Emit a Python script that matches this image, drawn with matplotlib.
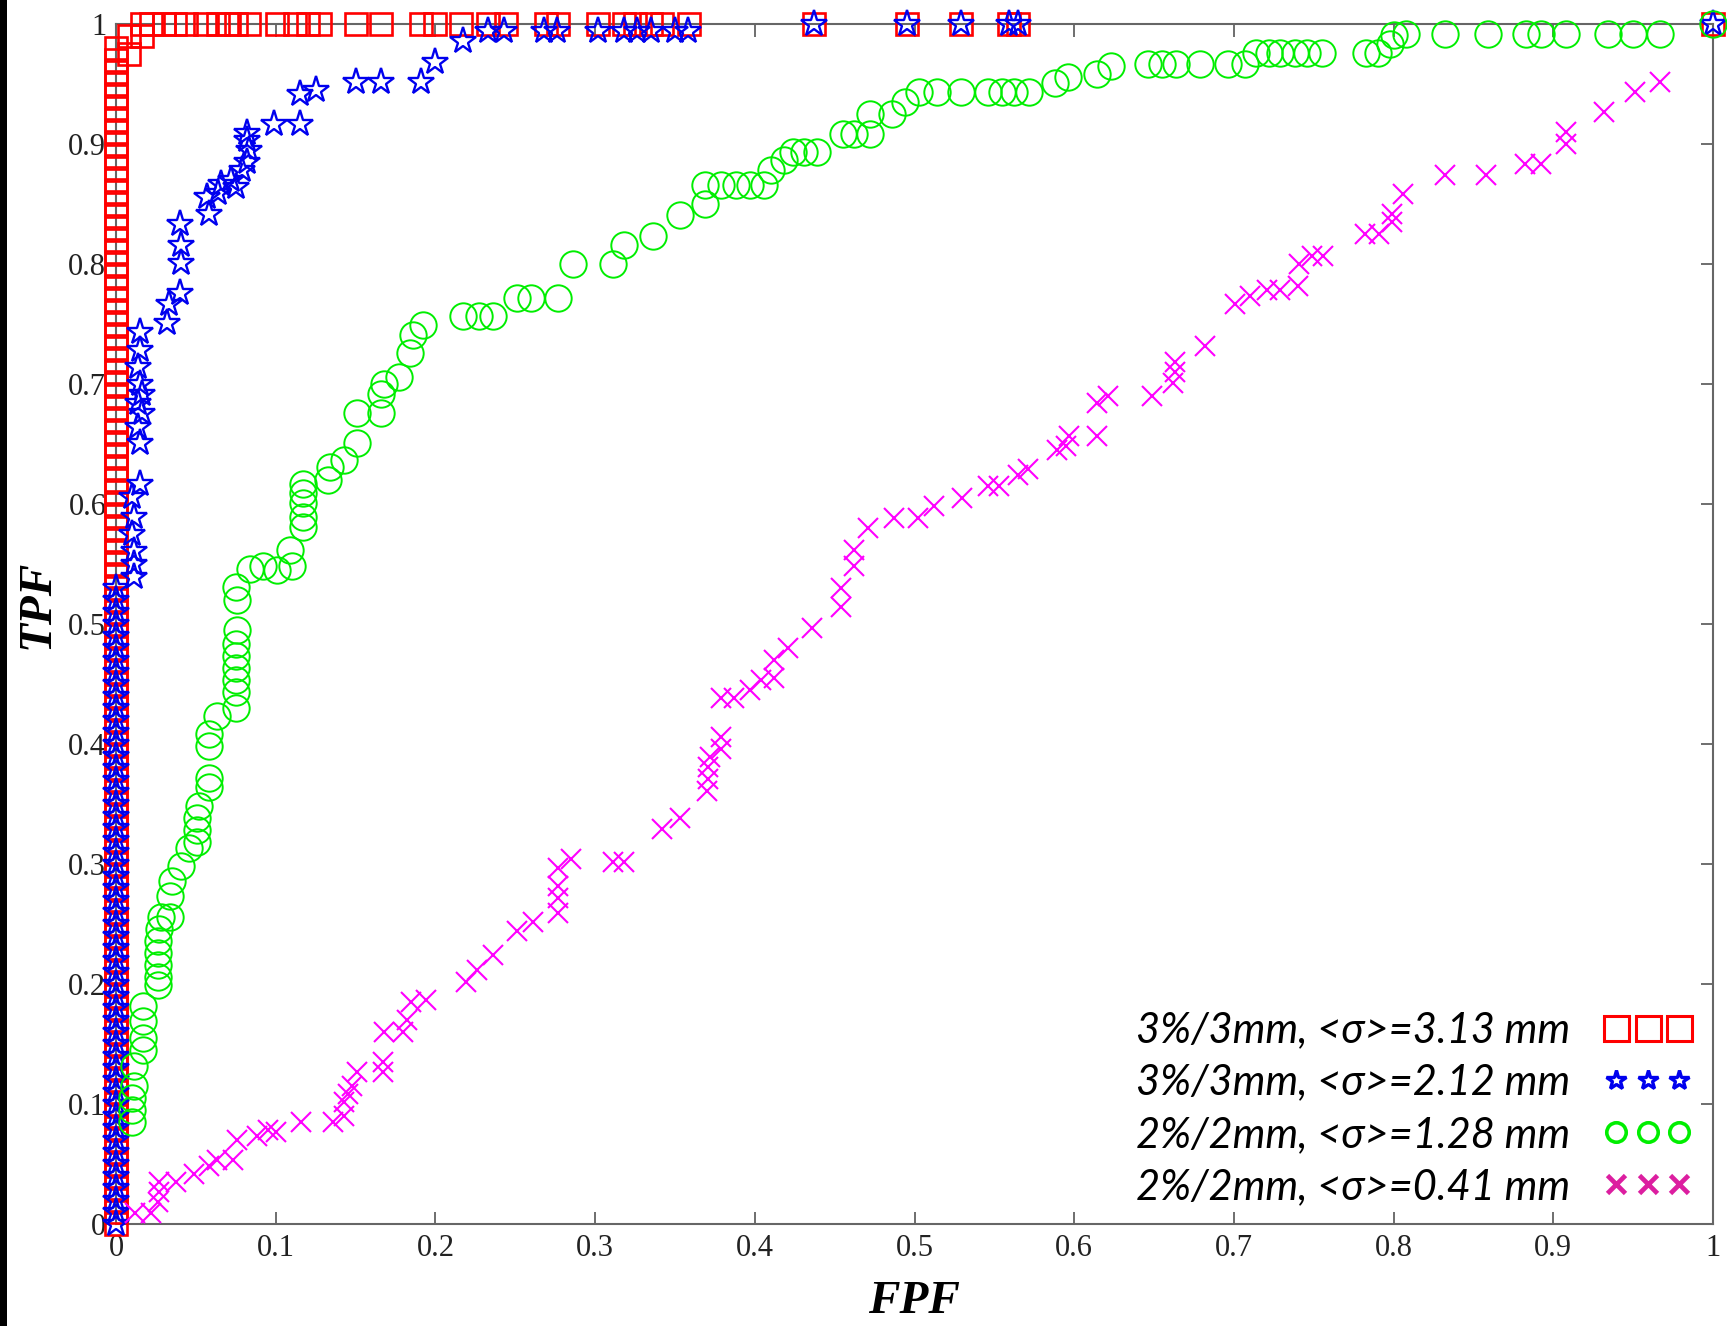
import matplotlib
matplotlib.use("Agg")
import matplotlib.pyplot as plt
from matplotlib.lines import Line2D
from matplotlib.patches import Rectangle
from matplotlib.font_manager import FontProperties

# ---------------- data ----------------
tick_values = [0, 0.1, 0.2, 0.3, 0.4, 0.5, 0.6, 0.7, 0.8, 0.9, 1]
tick_labels = ["0", "0.1", "0.2", "0.3", "0.4", "0.5", "0.6", "0.7", "0.8", "0.9", "1"]

legend_labels = ["3%/3mm, <σ>=3.13 mm", "3%/3mm, <σ>=2.12 mm",
                 "2%/2mm, <σ>=1.28 mm", "2%/2mm, <σ>=0.41 mm"]

# 3%/3mm, sigma=3.13 mm (red squares)
red_col_tpf = [0.00, 0.01, 0.02, 0.03, 0.04, 0.05, 0.06, 0.07, 0.08, 0.09,
               0.10, 0.11, 0.12, 0.13, 0.14, 0.15, 0.16, 0.17, 0.18, 0.19,
               0.20, 0.21, 0.22, 0.23, 0.24, 0.25, 0.26, 0.27, 0.28, 0.29,
               0.30, 0.31, 0.32, 0.33, 0.34, 0.35, 0.36, 0.37, 0.38, 0.39,
               0.40, 0.41, 0.42, 0.43, 0.44, 0.45, 0.46, 0.47, 0.48, 0.49,
               0.50, 0.51, 0.52, 0.53, 0.54, 0.55, 0.56, 0.57, 0.58, 0.59,
               0.60, 0.61, 0.62, 0.63, 0.64, 0.65, 0.66, 0.67, 0.68, 0.69,
               0.70, 0.71, 0.72, 0.73, 0.74, 0.75, 0.76, 0.77, 0.78, 0.79,
               0.80, 0.81, 0.82, 0.83, 0.84, 0.85, 0.86, 0.87, 0.88, 0.89,
               0.90, 0.91, 0.92, 0.93, 0.94, 0.95, 0.96, 0.97, 0.98]
red_top_fpf = [0.008, 0.008, 0.016, 0.016, 0.022, 0.030, 0.037, 0.044, 0.056, 0.064,
               0.071, 0.075, 0.083, 0.101, 0.112, 0.120, 0.128, 0.150, 0.166, 0.191,
               0.200, 0.216, 0.233, 0.244, 0.269, 0.277, 0.302, 0.318, 0.325, 0.335,
               0.342, 0.359, 0.437, 0.495, 0.529, 0.559, 0.565, 1.0]
red_top_tpf = [0.975, 0.99, 0.99, 1.0, 1.0, 1.0, 1.0, 1.0, 1.0, 1.0,
               1.0, 1.0, 1.0, 1.0, 1.0, 1.0, 1.0, 1.0, 1.0, 1.0,
               1.0, 1.0, 1.0, 1.0, 1.0, 1.0, 1.0, 1.0, 1.0, 1.0,
               1.0, 1.0, 1.0, 1.0, 1.0, 1.0, 1.0, 1.0]
red_fpf = [0.0] * len(red_col_tpf) + red_top_fpf
red_tpf = red_col_tpf + red_top_tpf

# 3%/3mm, sigma=2.12 mm (blue stars)
blue_col_tpf = [0.00, 0.01, 0.02, 0.03, 0.04, 0.05, 0.06, 0.07, 0.08, 0.09,
                0.10, 0.11, 0.12, 0.13, 0.14, 0.15, 0.16, 0.17, 0.18, 0.19,
                0.20, 0.21, 0.22, 0.23, 0.24, 0.25, 0.26, 0.27, 0.28, 0.29,
                0.30, 0.31, 0.32, 0.33, 0.34, 0.35, 0.36, 0.37, 0.38, 0.39,
                0.40, 0.41, 0.42, 0.43, 0.44, 0.45, 0.46, 0.47, 0.48, 0.49,
                0.50, 0.51, 0.52, 0.53]
blue_rest_fpf = [0.011, 0.011, 0.011, 0.010, 0.011, 0.010, 0.015, 0.015, 0.014, 0.016,
                 0.014, 0.016, 0.015, 0.014, 0.015, 0.015,
                 0.032, 0.033, 0.040, 0.041, 0.041, 0.040,
                 0.058, 0.057, 0.064, 0.066, 0.072, 0.075, 0.079, 0.082, 0.083, 0.082, 0.082,
                 0.099, 0.115, 0.115, 0.125, 0.150, 0.166, 0.191, 0.200, 0.217,
                 0.233, 0.243, 0.268, 0.276, 0.302, 0.318, 0.326, 0.335, 0.350, 0.358,
                 0.437, 0.495, 0.529, 0.559, 0.565, 1.0]
blue_rest_tpf = [0.539, 0.550, 0.561, 0.575, 0.589, 0.606, 0.617, 0.651, 0.664, 0.676,
                 0.684, 0.692, 0.700, 0.714, 0.728, 0.743,
                 0.751, 0.767, 0.776, 0.801, 0.816, 0.833,
                 0.842, 0.856, 0.859, 0.867, 0.870, 0.864, 0.878, 0.885, 0.895, 0.903, 0.909,
                 0.917, 0.917, 0.942, 0.945, 0.952, 0.952, 0.952, 0.968, 0.986,
                 0.994, 0.994, 0.994, 0.994, 0.994, 0.994, 0.994, 0.994, 0.994, 0.994,
                 1.0, 1.0, 1.0, 1.0, 1.0, 1.0]
blue_fpf = [0.0] * len(blue_col_tpf) + blue_rest_fpf
blue_tpf = blue_col_tpf + blue_rest_tpf

# 2%/2mm, sigma=1.28 mm (green circles)
green_fpf = [0.010, 0.010, 0.010, 0.011, 0.011, 0.017, 0.017, 0.017, 0.017, 0.026,
             0.026, 0.026, 0.026, 0.026, 0.027, 0.028, 0.034, 0.034, 0.035, 0.041,
             0.046, 0.051, 0.051, 0.051, 0.052, 0.058, 0.058, 0.058, 0.058, 0.063,
             0.075, 0.075, 0.075, 0.075, 0.075, 0.075, 0.076, 0.076, 0.075, 0.084,
             0.092, 0.101, 0.110, 0.109, 0.117, 0.117, 0.117, 0.117, 0.117, 0.133,
             0.134, 0.143, 0.151, 0.151, 0.166, 0.166, 0.168, 0.177, 0.184, 0.186,
             0.192,
             0.217, 0.227, 0.236, 0.251, 0.260, 0.277, 0.286, 0.311, 0.318, 0.336,
             0.353, 0.369, 0.369, 0.379, 0.388, 0.397, 0.406, 0.410, 0.418, 0.424,
             0.431, 0.439, 0.455, 0.462, 0.472, 0.472, 0.486, 0.494, 0.503, 0.514,
             0.529, 0.546, 0.555, 0.562, 0.572, 0.588, 0.596, 0.614, 0.623, 0.646,
             0.655, 0.664, 0.679, 0.696, 0.707, 0.714, 0.722, 0.729, 0.738, 0.746,
             0.755, 0.783, 0.790, 0.798, 0.800, 0.808, 0.832, 0.859, 0.883, 0.892,
             0.908, 0.934, 0.950, 0.967, 1.0]
green_tpf = [0.085, 0.095, 0.105, 0.115, 0.132, 0.145, 0.155, 0.169, 0.182, 0.199,
             0.206, 0.216, 0.226, 0.236, 0.246, 0.256, 0.256, 0.273, 0.286, 0.298,
             0.313, 0.318, 0.328, 0.338, 0.348, 0.364, 0.372, 0.398, 0.408, 0.423,
             0.430, 0.443, 0.453, 0.463, 0.473, 0.483, 0.495, 0.520, 0.531, 0.546,
             0.548, 0.545, 0.548, 0.562, 0.581, 0.589, 0.601, 0.609, 0.617, 0.620,
             0.631, 0.637, 0.651, 0.676, 0.676, 0.692, 0.700, 0.706, 0.726, 0.741,
             0.749,
             0.757, 0.757, 0.757, 0.772, 0.772, 0.772, 0.800, 0.800, 0.816, 0.823,
             0.841, 0.850, 0.866, 0.866, 0.866, 0.866, 0.866, 0.878, 0.887, 0.893,
             0.893, 0.893, 0.908, 0.908, 0.908, 0.925, 0.925, 0.935, 0.943, 0.943,
             0.943, 0.943, 0.943, 0.943, 0.943, 0.951, 0.956, 0.958, 0.965, 0.967,
             0.967, 0.967, 0.967, 0.967, 0.967, 0.976, 0.976, 0.976, 0.976, 0.976,
             0.976, 0.976, 0.976, 0.983, 0.991, 0.992, 0.992, 0.992, 0.992, 0.992,
             0.992, 0.992, 0.992, 0.992, 1.0]

# 2%/2mm, sigma=0.41 mm (magenta crosses)
mag_fpf = [0.012, 0.022, 0.026, 0.027, 0.027, 0.0375, 0.049, 0.058, 0.063, 0.073,
           0.076, 0.088, 0.095, 0.100, 0.116, 0.136, 0.143, 0.143, 0.145, 0.148,
           0.151, 0.167, 0.167, 0.168, 0.180, 0.182, 0.185, 0.194, 0.219, 0.226,
           0.236, 0.251, 0.261, 0.277, 0.277, 0.277, 0.277, 0.285, 0.311, 0.318,
           0.342, 0.353, 0.370, 0.371, 0.371, 0.372, 0.379, 0.379, 0.379, 0.387,
           0.397, 0.404, 0.412, 0.412, 0.421, 0.436,
           0.454, 0.454, 0.462, 0.462, 0.471, 0.487, 0.502, 0.512, 0.530, 0.546,
           0.553, 0.565, 0.571, 0.589, 0.595, 0.597, 0.614, 0.614, 0.621, 0.649,
           0.662, 0.663, 0.663, 0.682, 0.701, 0.710, 0.721, 0.729, 0.740, 0.741,
           0.749, 0.756, 0.782, 0.791, 0.799, 0.799, 0.806, 0.832, 0.858, 0.882,
           0.892, 0.908, 0.908, 0.932, 0.951, 0.967]
mag_tpf = [0.009, 0.009, 0.018, 0.027, 0.035, 0.035, 0.042, 0.048, 0.053, 0.053,
           0.070, 0.073, 0.078, 0.077, 0.085, 0.085, 0.090, 0.102, 0.108, 0.115,
           0.127, 0.127, 0.135, 0.160, 0.160, 0.170, 0.185, 0.187, 0.202, 0.212,
           0.224, 0.244, 0.252, 0.259, 0.272, 0.282, 0.297, 0.304, 0.302, 0.302,
           0.329, 0.338, 0.361, 0.371, 0.381, 0.389, 0.396, 0.406, 0.438, 0.438,
           0.445, 0.453, 0.455, 0.470, 0.480, 0.497,
           0.514, 0.530, 0.548, 0.562, 0.580, 0.588, 0.588, 0.598, 0.605, 0.615,
           0.615, 0.624, 0.629, 0.645, 0.648, 0.657, 0.657, 0.684, 0.690, 0.690,
           0.701, 0.710, 0.718, 0.732, 0.767, 0.773, 0.778, 0.778, 0.782, 0.800,
           0.807, 0.807, 0.825, 0.825, 0.835, 0.842, 0.858, 0.874, 0.874, 0.883,
           0.883, 0.900, 0.910, 0.927, 0.943, 0.952]

# ---------------- figure ----------------
W, H = 1727, 1326
fig = plt.figure(figsize=(W / 100, H / 100), dpi=100)
fig.patch.set_facecolor("white")
ax = fig.add_axes([116 / W, 102 / H, 1597 / W, 1200 / H])
ax.set_xlim(0, 1)
ax.set_ylim(0, 1)

common = dict(linestyle="none", clip_on=False, zorder=3)
ax.plot(red_fpf, red_tpf, marker="s", ms=16.5, mfc="none", mec="#ff0000", mew=1.9, **common)
ax.plot(blue_fpf, blue_tpf, marker="*", ms=20, mfc="none", mec="#0000ee", mew=1.7, **common)
ax.plot(green_fpf, green_tpf, marker="o", ms=19, mfc="none", mec="#00ee00", mew=1.4, **common)
ax.plot(mag_fpf, mag_tpf, marker="x", ms=15, mfc="none", mec="#ff00ff", mew=1.5, **common)

ax.set_xticks(tick_values)
ax.set_xticklabels(tick_labels)
ax.set_yticks(tick_values)
ax.set_yticklabels(tick_labels)
ax.tick_params(direction="in", length=9, width=1.2, colors="#555555",
               top=True, right=True, labelsize=22, pad=7, labelcolor="#222222")
for lab in ax.get_xticklabels() + ax.get_yticklabels():
    lab.set_family("Liberation Serif")
for sp in ax.spines.values():
    sp.set_color("#666666")
    sp.set_linewidth(1.5)

fig.text(38 / W, 1 - 604 / H, "TPF", rotation=90, fontsize=34, fontweight="bold",
         fontstyle="italic", family="Liberation Serif", ha="center", va="center")
fig.text(914 / W, 1 - 1302 / H, "FPF", fontsize=34, fontweight="bold",
         fontstyle="italic", family="Liberation Serif", ha="center", va="center")

handles = [
    Line2D([], [], linestyle="none", marker="s", ms=18, mfc="none", mec="#ff0000", mew=2.2),
    Line2D([], [], linestyle="none", marker="*", ms=15, mfc="none", mec="#0000ee", mew=2.4),
    Line2D([], [], linestyle="none", marker="o", ms=14, mfc="none", mec="#00ee00", mew=2.6),
    Line2D([], [], linestyle="none", marker="x", ms=13, mfc="none", mec="#dc1ea0", mew=3.4),
]
ax.legend(handles, legend_labels, loc="lower right",
          bbox_to_anchor=(0.9865, 0.015), bbox_transform=ax.transAxes,
          frameon=False, markerfirst=False, numpoints=3, handlelength=2.1,
          handletextpad=0.8, labelspacing=0.34, borderpad=0, borderaxespad=0,
          prop=FontProperties(family=["Lato", "DejaVu Sans"], style="italic", size=30))

fig.add_artist(Rectangle((0, 0), 7 / W, 1, transform=fig.transFigure,
                         facecolor="black", edgecolor="none"))

fig.savefig("out.png", dpi=100)
